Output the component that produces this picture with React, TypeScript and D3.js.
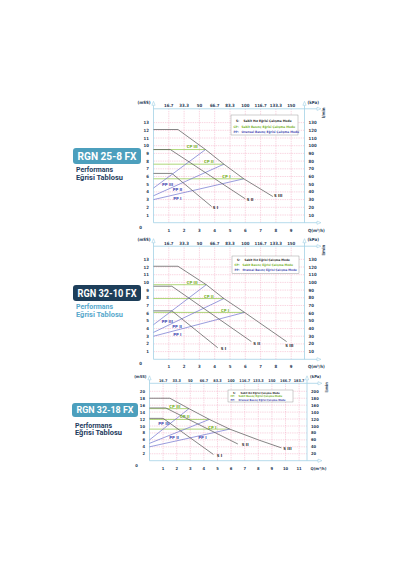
import React from 'react';
import * as d3 from 'd3';

type Pt = [number, number];

// Axis tick labels shared by the two 10 m charts
const Q_TICKS_A = [1, 2, 3, 4, 5, 6, 7, 8, 9];
const LPM_A = ['16.7', '33.3', '50', '66.7', '83.3', '100', '116.7', '133.3', '150'];
const H_TICKS_A = [1, 2, 3, 4, 5, 6, 7, 8, 9, 10, 11, 12, 13];
const KPA_A = ['10', '20', '30', '40', '50', '60', '70', '80', '90', '100', '110', '120', '130'];

// Axis tick labels of the 18 m chart
const Q_TICKS_B = [1, 2, 3, 4, 5, 6, 7, 8, 9, 10, 11];
const LPM_B = ['16.7', '33.3', '50', '66.7', '83.3', '100', '116.7', '133.3', '150', '166.7', '183.7'];
const H_TICKS_B = [2, 4, 6, 8, 10, 12, 14, 16, 18, 20];
const KPA_B = ['20', '40', '60', '80', '100', '120', '140', '160', '180', '200'];

// RGN 25-8 FX  (Q m3/h, H mSS)
const S1_258: Pt[] = [[0, 6.4], [1.2, 6.4], [3.8, 2.1]];
const S2_258: Pt[] = [[0, 9.5], [1.1, 9.5], [6.0, 3.1]];
const S3_258: Pt[] = [[0, 12.1], [1.6, 12.1], [3.4, 9.5], [4.6, 7.6], [5.9, 5.7], [7.8, 3.4]];
const CP1_258: Pt[] = [[0, 5.7], [5.9, 5.7]];
const CP2_258: Pt[] = [[0, 7.6], [4.6, 7.6]];
const CP3_258: Pt[] = [[0, 9.5], [3.4, 9.5]];
const PP1_258: Pt[] = [[0, 3.0], [5.9, 5.7]];
const PP2_258: Pt[] = [[0, 3.5], [4.6, 7.6]];
const PP3_258: Pt[] = [[0, 4.5], [3.4, 9.5]];

// RGN 32-10 FX
const S1_3210: Pt[] = [[0, 6.3], [1.2, 6.3], [4.2, 1.5]];
const S2_3210: Pt[] = [[0, 9.5], [1.2, 9.5], [6.4, 2.3]];
const S3_3210: Pt[] = [[0, 12.1], [1.6, 12.1], [3.45, 9.7], [4.6, 7.9], [5.95, 6.1], [8.7, 2.3]];
const CP1_3210: Pt[] = [[0, 6.1], [5.95, 6.1]];
const CP2_3210: Pt[] = [[0, 7.9], [4.6, 7.9]];
const CP3_3210: Pt[] = [[0, 9.7], [3.45, 9.7]];
const PP1_3210: Pt[] = [[0, 3.0], [5.95, 6.1]];
const PP2_3210: Pt[] = [[0, 3.5], [4.6, 7.9]];
const PP3_3210: Pt[] = [[0, 4.5], [3.45, 9.7]];

// RGN 32-18 FX
const S1_3218: Pt[] = [[0, 12.2], [1.0, 12.2], [4.7, 1.8]];
const S2_3218: Pt[] = [[0, 15.2], [1.2, 15.2], [6.5, 4.8]];
const S3_3218: Pt[] = [[0, 18.0], [1.5, 18.0], [2.9, 15.0], [4.4, 11.9], [5.9, 9.1], [8.0, 6.0], [9.7, 3.7]];
const CP1_3218: Pt[] = [[0, 9.1], [5.9, 9.1]];
const CP2_3218: Pt[] = [[0, 11.9], [4.4, 11.9]];
const CP3_3218: Pt[] = [[0, 15.0], [2.9, 15.0]];
const PP1_3218: Pt[] = [[0, 4.0], [5.9, 9.1]];
const PP2_3218: Pt[] = [[0, 5.0], [4.4, 11.9]];
const PP3_3218: Pt[] = [[0, 6.0], [2.9, 15.0]];

// Curve captions, anchored in data units
type Cap = [string, 'S' | 'CP' | 'PP', number, number];
const CAPS_258: Cap[] = [
  ['S I', 'S', 3.87, 2.0], ['S II', 'S', 6.09, 3.04], ['S III', 'S', 7.88, 3.47],
  ['CP III', 'CP', 2.17, 9.85], ['CP II', 'CP', 3.3, 7.9], ['CP I', 'CP', 4.5, 6.0],
  ['PP III', 'PP', 0.56, 5.0], ['PP II', 'PP', 1.25, 4.3], ['PP I', 'PP', 1.29, 3.17],
];
const CAPS_3210: Cap[] = [
  ['S I', 'S', 4.39, 1.43], ['S II', 'S', 6.52, 2.08], ['S III', 'S', 8.61, 1.77],
  ['CP III', 'CP', 2.17, 9.95], ['CP II', 'CP', 3.3, 8.23], ['CP I', 'CP', 4.41, 6.4],
  ['PP III', 'PP', 0.54, 4.98], ['PP II', 'PP', 1.23, 4.33], ['PP I', 'PP', 1.29, 3.25],
];
const CAPS_3218: Cap[] = [
  ['S I', 'S', 4.94, 1.64], ['S II', 'S', 6.78, 4.61], ['S III', 'S', 9.84, 3.46],
  ['CP III', 'CP', 1.46, 15.7], ['CP II', 'CP', 2.24, 12.6], ['CP I', 'CP', 4.32, 9.7],
  ['PP III', 'PP', 0.65, 10.78], ['PP II', 'PP', 1.46, 6.74], ['PP I', 'PP', 3.59, 6.74],
];

const LEGEND_ROWS = [
  ['S:', 'Sabit Hız Eğrisi Çalışma Modu', 'S'],
  ['CP:', 'Sabit Basınç Eğrisi Çalışma Modu', 'CP'],
  ['PP:', 'Oransal Basınç Eğrisi Çalışma Modu', 'PP'],
] as const;

const LINE_COLOR = { S: '#5d5d5d', CP: '#8cc540', PP: '#6e72cf' };
const TEXT_COLOR = { S: '#2d2d2d', CP: '#78b42c', PP: '#4a4fb3' };
const AXIS = '#a3d2e6';
const GRID = '#f2a2bd';
const INK = '#2a3d58';
const FONT = '"DejaVu Sans Condensed", "Liberation Sans Narrow", Roboto, sans-serif';

interface Layout {
  x0: number; xu: number; rightPx: number;
  y0: number; yu: number; frameTop: number;
  arrowX: number;
  fs: number; topFs: number;
  badge: [number, number, number, number];
  badgeFs: number;
  subY: [number, number];
  subFs: number;
  legend: [number, number, number, number];
  legendRows: [number, number, number];
  legendFont: number;
}

interface ChartProps {
  title: string;
  badgeFill: string;
  subFill: string;
  layout: Layout;
  qTicks: number[];
  lpm: string[];
  hTicks: number[];
  kpa: string[];
  s: Pt[][];
  cp: Pt[][];
  pp: Pt[][];
  caps: Cap[];
}

function Chart(p: ChartProps) {
  const L = p.layout;
  const x = d3.scaleLinear().domain([0, 1]).range([L.x0, L.x0 + L.xu]);
  const y = d3.scaleLinear().domain([0, 1]).range([L.y0, L.y0 - L.yu]);
  const line = d3.line<Pt>().x((d) => x(d[0])).y((d) => y(d[1]));
  const left = x(0);
  const right = L.rightPx;
  const tipY = L.frameTop - 7.5;
  const fs = L.fs;

  const upArrow = (cx: number) =>
    `M${cx - 1.6},${tipY + 4} L${cx},${tipY} L${cx + 1.6},${tipY + 4} Z`;
  const rightArrow = (cy: number) =>
    `M${L.arrowX - 4},${cy - 1.6} L${L.arrowX},${cy} L${L.arrowX - 4},${cy + 1.6} Z`;

  const [bx, by, bw, bh] = L.badge;
  const [lx, ly, lw, lh] = L.legend;

  return (
    <g>
      {/* grid */}
      {p.qTicks.map((q) => (
        <line key={'gx' + q} x1={x(q)} x2={x(q)} y1={L.y0} y2={L.frameTop}
          stroke={GRID} strokeWidth={0.45} strokeDasharray="1.4,0.9" />
      ))}
      {p.hTicks.map((h) => (
        <line key={'gy' + h} x1={left} x2={right} y1={y(h)} y2={y(h)}
          stroke={GRID} strokeWidth={0.45} strokeDasharray="1.4,0.9" />
      ))}

      {/* frame / axes */}
      <line x1={left} x2={left} y1={L.y0} y2={tipY + 4} stroke={AXIS} strokeWidth={0.8} />
      <line x1={right} x2={right} y1={L.y0} y2={tipY + 4} stroke={AXIS} strokeWidth={0.8} />
      <line x1={left} x2={L.arrowX - 4} y1={L.y0} y2={L.y0} stroke={AXIS} strokeWidth={0.8} />
      <line x1={left} x2={L.arrowX - 4} y1={L.frameTop} y2={L.frameTop} stroke={AXIS} strokeWidth={0.8} />
      <path d={upArrow(left)} fill="white" stroke={AXIS} strokeWidth={0.6} />
      <path d={upArrow(right)} fill="white" stroke={AXIS} strokeWidth={0.6} />
      <path d={rightArrow(L.y0)} fill="white" stroke={AXIS} strokeWidth={0.6} />
      <path d={rightArrow(L.frameTop)} fill="white" stroke={AXIS} strokeWidth={0.6} />

      {/* axis texts */}
      <g fontFamily={FONT} fontSize={fs} fill={INK} fontWeight="bold">
        <text x={left - 3} y={tipY + 2.5} textAnchor="end">(mSS)</text>
        <text x={right + 3} y={tipY + 2.5}>(kPa)</text>
        <text transform={`translate(${right + 20.5},${L.frameTop + 4}) rotate(-90)`} textAnchor="middle">l/min</text>
        <text x={right + 3.5} y={L.y0 + 8.8}>Q(m³/h)</text>
        <text x={left - 13} y={L.y0 + 5.8} textAnchor="middle">0</text>
        {p.lpm.map((t, i) => (
          <text key={'t' + t} x={x(p.qTicks[i])} y={L.frameTop - 1.6} textAnchor="middle"
            fontSize={L.topFs}>{t}</text>
        ))}
        {p.qTicks.map((q) => (
          <text key={'q' + q} x={x(q)} y={L.y0 + 8.8} textAnchor="middle">{q}</text>
        ))}
        {p.hTicks.map((h) => (
          <text key={'h' + h} x={left - 4.5} y={y(h) + 1.5} textAnchor="end">{h}</text>
        ))}
        {p.kpa.map((k, i) => (
          <text key={'k' + k} x={right + 4} y={y(p.hTicks[i]) + 1.5}>{k}</text>
        ))}
      </g>

      {/* curves */}
      {p.cp.map((c, i) => (
        <path key={'cp' + i} d={line(c) ?? ''} fill="none" stroke={LINE_COLOR.CP} strokeWidth={0.7} />
      ))}
      {p.pp.map((c, i) => (
        <path key={'pp' + i} d={line(c) ?? ''} fill="none" stroke={LINE_COLOR.PP} strokeWidth={0.7} />
      ))}
      {p.s.map((c, i) => (
        <path key={'s' + i} d={line(c) ?? ''} fill="none" stroke={LINE_COLOR.S} strokeWidth={0.75} />
      ))}
      <g fontFamily={FONT} fontSize={4.2} fontWeight="bold">
        {p.caps.map(([t, k, cx, cy]) => (
          <text key={t} x={x(cx)} y={y(cy) + 1.5} fill={TEXT_COLOR[k]}>{t}</text>
        ))}
      </g>

      {/* legend */}
      <rect x={lx} y={ly} width={lw} height={lh} fill="white" stroke="#777" strokeWidth={0.35} />
      <g fontFamily={FONT} fontSize={L.legendFont} fontWeight="bold">
        {LEGEND_ROWS.map(([k, t, c], i) => (
          <g key={k} fill={TEXT_COLOR[c]}>
            <text x={lx + (i === 0 ? 5 : 2.5)} y={L.legendRows[i] + 1.1}>{k}</text>
            <text x={lx + (i === 0 ? 12.5 : 10.5)} y={L.legendRows[i] + 1.1}>{t}</text>
          </g>
        ))}
      </g>

      {/* title badge */}
      <rect x={bx} y={by} width={bw} height={bh} rx={3} fill={p.badgeFill} />
      <text x={bx + bw / 2} y={by + bh / 2 + L.badgeFs * 0.35} textAnchor="middle" fill="white"
        fontFamily="Roboto, sans-serif" fontWeight="bold" fontSize={L.badgeFs}
        textLength={bw - 9} lengthAdjust="spacingAndGlyphs">{p.title}</text>
      <g fontFamily="Roboto, sans-serif" fontWeight="bold" fontSize={L.subFs} fill={p.subFill}>
        <text x={bx + 3} y={L.subY[0]} textLength={37} lengthAdjust="spacingAndGlyphs">Performans</text>
        <text x={bx + 3} y={L.subY[1]} textLength={47} lengthAdjust="spacingAndGlyphs">Eğrisi Tablosu</text>
      </g>
    </g>
  );
}

const L258: Layout = {
  x0: 153.5, xu: 15.3, rightPx: 304.5, y0: 222.7, yu: 7.7, frameTop: 108.8, arrowX: 321,
  fs: 4.3, topFs: 4.3,
  badge: [73, 148, 68, 16], badgeFs: 10.5, subY: [172, 180], subFs: 7.6,
  legend: [231, 115, 67, 20], legendRows: [121, 126.5, 132], legendFont: 3.2,
};
const L3210: Layout = {
  x0: 153.5, xu: 15.3, rightPx: 304.5, y0: 359.3, yu: 7.69, frameTop: 246.2, arrowX: 321,
  fs: 4.3, topFs: 4.3,
  badge: [73, 285, 68, 16], badgeFs: 10.5, subY: [309, 316.5], subFs: 7.6,
  legend: [232, 256, 67, 17.5], legendRows: [259.5, 264.5, 269.5], legendFont: 3.0,
};
const L3218: Layout = {
  x0: 149.5, xu: 13.6, rightPx: 307, y0: 460.7, yu: 3.47, frameTop: 383.3, arrowX: 322,
  fs: 4.1, topFs: 3.8,
  badge: [72, 403, 66, 14], badgeFs: 9.8, subY: [428.3, 435.3], subFs: 7,
  legend: [228, 390, 65, 12], legendRows: [392.4, 395.9, 399.6], legendFont: 2.6,
};

export default function App() {
  return (
    <div style={{ position: 'absolute', left: 0, top: 0, width: 400, height: 570, background: 'white' }}>
      <svg width={400} height={570} viewBox="0 0 400 570" style={{ display: 'block' }}>
        <rect width={400} height={570} fill="white" />
        <Chart title="RGN 25-8 FX" badgeFill="#4c9fbd" subFill="#1e3b5e" layout={L258}
          qTicks={Q_TICKS_A} lpm={LPM_A} hTicks={H_TICKS_A} kpa={KPA_A}
          s={[S1_258, S2_258, S3_258]} cp={[CP1_258, CP2_258, CP3_258]} pp={[PP1_258, PP2_258, PP3_258]}
          caps={CAPS_258} />
        <Chart title="RGN 32-10 FX" badgeFill="#1d3e5a" subFill="#58a8cc" layout={L3210}
          qTicks={Q_TICKS_A} lpm={LPM_A} hTicks={H_TICKS_A} kpa={KPA_A}
          s={[S1_3210, S2_3210, S3_3210]} cp={[CP1_3210, CP2_3210, CP3_3210]} pp={[PP1_3210, PP2_3210, PP3_3210]}
          caps={CAPS_3210} />
        <Chart title="RGN 32-18 FX" badgeFill="#4c9fbd" subFill="#1e3b5e" layout={L3218}
          qTicks={Q_TICKS_B} lpm={LPM_B} hTicks={H_TICKS_B} kpa={KPA_B}
          s={[S1_3218, S2_3218, S3_3218]} cp={[CP1_3218, CP2_3218, CP3_3218]} pp={[PP1_3218, PP2_3218, PP3_3218]}
          caps={CAPS_3218} />
      </svg>
    </div>
  );
}
